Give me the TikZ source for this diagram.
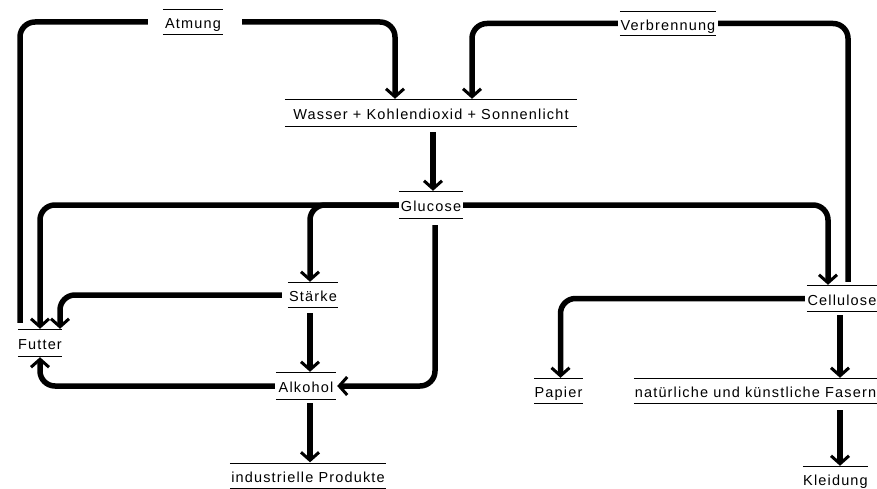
\documentclass[tikz,border=0pt]{standalone}
\usepackage{fontspec}
\setmainfont{Liberation Sans}[LetterSpace=8]
\usetikzlibrary{arrows.meta}
\tikzset{
  rule/.style={draw,line width=1.2pt,-},
  lbl/.style={inner sep=0pt, text height=13.5pt, text depth=0pt,
    font=\fontsize{14.5}{16}\selectfont,
    append after command={(\tikzlastnode.north west) edge[rule] (\tikzlastnode.north east)
      (\tikzlastnode.south west) edge[rule] (\tikzlastnode.south east)}},
  conn/.style={line width=5.5pt, rounded corners=15pt},
  arr/.style={-{Straight Barb[length=8pt,width=18pt,line width=3pt]}}
}
\begin{document}
\begin{tikzpicture}[x=1pt,y=-1pt]
\useasboundingbox (0,0) rectangle (877,489);
\fill[white] (0,0) rectangle (877,489);
\node[lbl, minimum width=60pt, minimum height=24pt] (atmung) at (193,22) {Atmung};
\node[lbl, minimum width=96pt, minimum height=23pt] (verbrennung) at (668,23.5) {Verbrennung};
\node[lbl, minimum width=292pt, minimum height=26pt] (wasser) at (431,113) {Wasser + Kohlendioxid + Sonnenlicht};
\node[lbl, minimum width=64pt, minimum height=26pt] (glucose) at (431,205) {Glucose};
\node[lbl, minimum width=50pt, minimum height=24pt] (staerke) at (313,295) {Stärke};
\node[lbl, minimum width=44pt, minimum height=26pt] (futter) at (40,343) {Futter};
\node[lbl, minimum width=60pt, minimum height=26pt] (alkohol) at (306,386) {Alkohol};
\node[lbl, minimum width=156pt, minimum height=25pt] (produkte) at (308,476) {industrielle Produkte};
\node[lbl, minimum width=70pt, minimum height=25pt] (cellulose) at (842,298.5) {Cellulose};
\node[lbl, minimum width=47pt, minimum height=24pt] (papier) at (558.5,391) {Papier};
\node[lbl, minimum width=243pt, minimum height=24pt] (fasern) at (755.5,391) {natürliche und künstliche Fasern};
\node[lbl, minimum width=65pt, minimum height=24pt] (kleidung) at (835.5,479) {Kleidung};

\draw[conn] ([xshift=-20pt,yshift=7pt]futter.north) |- ([xshift=-15pt]atmung.west);
\draw[conn,arr] ([xshift=19pt]atmung.east) -| ([xshift=-36pt,yshift=1pt]wasser.north);
\draw[conn] ([xshift=6pt,yshift=4pt]cellulose.north) |- ([xshift=2pt]verbrennung.east);
\draw[conn,arr] ([xshift=-2pt]verbrennung.west) -| ([xshift=41pt,yshift=1pt]wasser.north);
\draw[conn,arr] ([xshift=2pt,yshift=-6pt]wasser.south) -- ([xshift=2pt,yshift=1pt]glucose.north);
\draw[conn,arr] (glucose.west) -| ([yshift=1pt]futter.north);
\draw[conn,arr] (glucose.west) -| ([xshift=-3pt,yshift=1pt]staerke.north);
\draw[conn,arr] ([xshift=-6pt]staerke.west) -| ([xshift=20pt,yshift=1pt]futter.north);
\draw[conn,arr] ([xshift=-3pt,yshift=-6pt]staerke.south) -- ([xshift=-3pt,yshift=1pt]staerke.south |- alkohol.north);
\draw[conn,arr] ([xshift=4pt,yshift=-7pt]glucose.south) |- ([xshift=1pt]alkohol.east);
\draw[conn,arr] ([xshift=-1pt]alkohol.west) -| ([yshift=-1pt]futter.south);
\draw[conn,arr] ([xshift=-3pt,yshift=-4pt]staerke.south |- alkohol.south) -- ([xshift=-3pt,yshift=1pt]staerke.south |- produkte.north);
\draw[conn,arr] (glucose.east) -| ([xshift=-14pt,yshift=1pt]cellulose.north);
\draw[conn,arr] ([xshift=-2pt]cellulose.west) -| ([xshift=2pt,yshift=1pt]papier.north);
\draw[conn,arr] ([xshift=-2pt,yshift=-4pt]cellulose.south) -- ([xshift=-2pt,yshift=1pt]cellulose.south |- fasern.north);
\draw[conn,arr] ([xshift=-2pt,yshift=-7pt]cellulose.south |- fasern.south) -- ([xshift=-2pt,yshift=1pt]cellulose.south |- kleidung.north);
\end{tikzpicture}
\end{document}
